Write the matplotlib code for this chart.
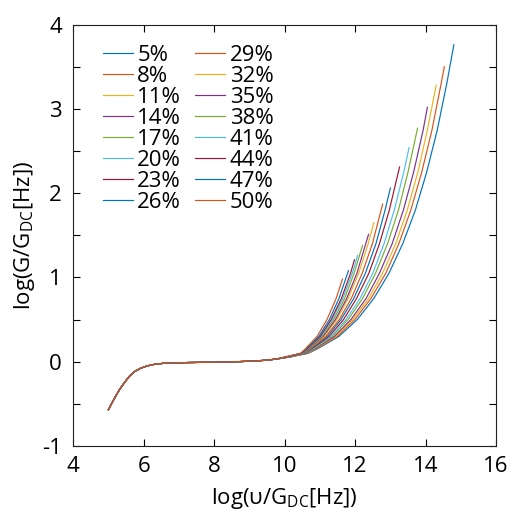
import matplotlib
matplotlib.use("Agg")
import matplotlib.pyplot as plt
from matplotlib.ticker import MultipleLocator

plt.rcParams["font.family"] = ["Open Sans", "DejaVu Sans"]
plt.rcParams["mathtext.default"] = "regular"
plt.rcParams["axes.unicode_minus"] = False

# shared low-frequency part (all curves overlap here)
low_x = [5.0, 5.15, 5.3, 5.45, 5.6, 5.75, 5.9, 6.1, 6.3, 6.55, 6.85, 7.3, 7.9,
         8.5, 9.0, 9.4, 9.75]
low_y = [-0.57, -0.45, -0.34, -0.25, -0.17, -0.115, -0.08, -0.05, -0.032, -0.02,
         -0.014, -0.01, -0.007, -0.002, 0.005, 0.015, 0.03]

labels = ["5%", "8%", "11%", "14%", "17%", "20%", "23%", "26%",
          "29%", "32%", "35%", "38%", "41%", "44%", "47%", "50%"]

# rising part of each curve
x05 = [10.15, 10.67, 10.92, 11.54, 12.06, 12.53, 12.96, 13.35, 13.71, 14.03, 14.33, 14.60, 14.80]
y05 = [0.055, 0.10, 0.15, 0.30, 0.50, 0.75, 1.05, 1.40, 1.80, 2.25, 2.75, 3.30, 3.76]
x08 = [10.15, 10.66, 10.89, 11.49, 11.99, 12.45, 12.87, 13.24, 13.58, 13.89, 14.18, 14.44, 14.53]
y08 = [0.055, 0.10, 0.15, 0.30, 0.50, 0.75, 1.05, 1.40, 1.80, 2.25, 2.75, 3.30, 3.50]
x11 = [10.15, 10.64, 10.87, 11.45, 11.93, 12.38, 12.78, 13.15, 13.48, 13.78, 14.05, 14.30]
y11 = [0.056, 0.10, 0.15, 0.30, 0.50, 0.75, 1.05, 1.40, 1.80, 2.25, 2.75, 3.28]
x14 = [10.15, 10.63, 10.85, 11.41, 11.88, 12.31, 12.69, 13.05, 13.37, 13.66, 13.93, 14.05]
y14 = [0.057, 0.10, 0.15, 0.30, 0.50, 0.75, 1.05, 1.40, 1.80, 2.25, 2.75, 3.02]
x17 = [10.15, 10.61, 10.82, 11.35, 11.80, 12.21, 12.58, 12.92, 13.23, 13.50, 13.77]
y17 = [0.058, 0.10, 0.15, 0.30, 0.50, 0.75, 1.05, 1.40, 1.80, 2.25, 2.77]
x20 = [10.15, 10.59, 10.79, 11.31, 11.74, 12.14, 12.50, 12.82, 13.11, 13.38, 13.53]
y20 = [0.059, 0.10, 0.15, 0.30, 0.50, 0.75, 1.05, 1.40, 1.80, 2.25, 2.54]
x23 = [10.15, 10.57, 10.76, 11.26, 11.67, 12.04, 12.39, 12.69, 12.97, 13.26]
y23 = [0.060, 0.10, 0.15, 0.30, 0.50, 0.75, 1.05, 1.40, 1.80, 2.31]
x26 = [10.15, 10.56, 10.74, 11.21, 11.60, 11.96, 12.29, 12.59, 12.85, 13.00]
y26 = [0.061, 0.10, 0.15, 0.30, 0.50, 0.75, 1.05, 1.40, 1.80, 2.06]
x29 = [10.15, 10.54, 10.72, 11.17, 11.55, 11.89, 12.20, 12.49, 12.78]
y29 = [0.062, 0.10, 0.15, 0.30, 0.50, 0.75, 1.05, 1.40, 1.87]
x32 = [10.15, 10.52, 10.69, 11.12, 11.48, 11.80, 12.10, 12.37, 12.53]
y32 = [0.063, 0.10, 0.15, 0.30, 0.50, 0.75, 1.05, 1.40, 1.65]
x35 = [10.15, 10.51, 10.68, 11.09, 11.44, 11.76, 12.05, 12.38]
y35 = [0.064, 0.10, 0.15, 0.30, 0.50, 0.75, 1.05, 1.51]
x38 = [10.15, 10.50, 10.66, 11.06, 11.39, 11.70, 11.97, 12.21]
y38 = [0.065, 0.10, 0.15, 0.30, 0.50, 0.75, 1.05, 1.38]
x41 = [10.15, 10.49, 10.64, 11.03, 11.35, 11.65, 11.92, 12.07]
y41 = [0.066, 0.10, 0.15, 0.30, 0.50, 0.75, 1.05, 1.26]
x44 = [10.15, 10.48, 10.63, 11.01, 11.32, 11.61, 11.87, 11.98]
y44 = [0.067, 0.10, 0.15, 0.30, 0.50, 0.75, 1.05, 1.21]
x47 = [10.15, 10.47, 10.61, 10.97, 11.27, 11.54, 11.81]
y47 = [0.068, 0.10, 0.15, 0.30, 0.50, 0.75, 1.08]
x50 = [10.15, 10.45, 10.58, 10.92, 11.20, 11.46, 11.64]
y50 = [0.070, 0.10, 0.15, 0.30, 0.50, 0.75, 0.98]

rise_x = [x05, x08, x11, x14, x17, x20, x23, x26, x29, x32, x35, x38, x41, x44, x47, x50]
rise_y = [y05, y08, y11, y14, y17, y20, y23, y26, y29, y32, y35, y38, y41, y44, y47, y50]

colors = ["#0072BD", "#D95319", "#EDB120", "#7E2F8E",
          "#77AC30", "#4DBEEE", "#A2142F"]

fig = plt.figure(figsize=(5.12, 5.12), dpi=100)
ax = fig.add_axes([0.143, 0.129, 0.826, 0.823])

for i, lab in enumerate(labels):
    ax.plot(low_x + rise_x[i], low_y + rise_y[i], color=colors[i % 7],
            lw=0.85, label=lab)

ax.set_xlim(4, 16)
ax.set_ylim(-1, 4)
ax.xaxis.set_major_locator(MultipleLocator(2))
ax.yaxis.set_major_locator(MultipleLocator(1))
ax.yaxis.set_minor_locator(MultipleLocator(0.5))
ax.tick_params(which="both", direction="in", top=True, right=True,
               length=5, width=0.8, labelsize=16)
ax.tick_params(axis="x", pad=7)
ax.tick_params(axis="y", pad=8)
for sp in ax.spines.values():
    sp.set_linewidth(0.8)
    sp.set_color("#222222")

ax.set_xlabel(r"log(υ/G$_{\mathregular{DC}}$[Hz])", fontsize=16, labelpad=7)
ax.set_ylabel(r"log(G/G$_{\mathregular{DC}}$[Hz])", fontsize=16, labelpad=3.5)

ax.legend(loc="upper left", bbox_to_anchor=(0.033, 0.988), ncol=2,
          frameon=False, fontsize=16, handlelength=1.35, handletextpad=0.2,
          columnspacing=0.65, labelspacing=0.0, borderpad=0.2)

fig.savefig("out.png", dpi=100)
